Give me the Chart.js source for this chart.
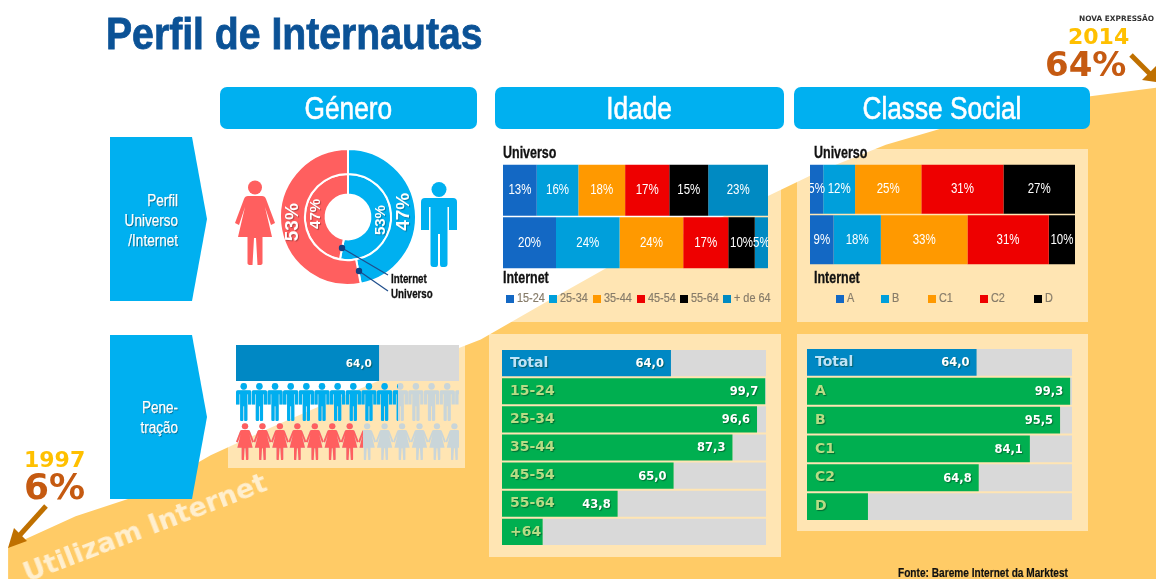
<!DOCTYPE html>
<html lang="pt">
<head>
<meta charset="utf-8">
<title>Perfil de Internautas</title>
<script src="https://cdn.jsdelivr.net/npm/chart.js@4"></script>
<style>
html,body{margin:0;padding:0;background:#fff;width:1156px;height:579px;overflow:hidden}
#stage{position:relative;width:1156px;height:579px;overflow:hidden;font-family:"Liberation Sans",sans-serif}
#stage>*{position:absolute}
canvas{display:block}
.pill{background:#00B0F0;border-radius:7px;color:#fff;text-align:center;font-size:32px;line-height:43px;height:42px}
.pill span{display:inline-block;transform:scaleX(.82);transform-origin:50% 50%;white-space:nowrap;-webkit-text-stroke:.6px #fff}
.panel{background:rgba(255,255,255,.5)}
.tag{left:110px;width:97px;height:164px;background:#00B0F0;clip-path:polygon(0 0,82px 0,100% 50%,82px 100%,0 100%)}
.tagt{left:90px;width:88px;text-align:right;color:#fff;font-size:16.5px;line-height:20px;text-shadow:1px 1px 1px rgba(0,0,0,.45);transform:scaleX(.82);transform-origin:100% 50%;-webkit-text-stroke:.25px #fff}
.sub{font-weight:bold;font-size:16px;color:#111;line-height:18px;transform:scaleX(.78);transform-origin:0 50%;white-space:nowrap;-webkit-text-stroke:.3px #111}
.lg{font-size:12.5px;line-height:12px;color:#877C6A;white-space:nowrap}
.lg i{display:inline-block;width:8px;height:8px;margin-right:3px;vertical-align:-0.5px}
.lg span{display:inline-block;transform:scaleX(.87);transform-origin:0 50%;-webkit-text-stroke:.2px #877C6A}
.row{overflow:hidden;left:236px;width:223px}
.row>div{position:absolute;left:0;top:0;height:100%;overflow:hidden}
</style>
</head>
<body>
<div id="stage">
  <canvas id="bg" width="1156" height="579" style="left:0;top:0"></canvas>
  <div style="left:24px;top:558px;transform:rotate(-21deg);transform-origin:0 50%;color:rgba(255,255,255,.68);font:bold 27px 'DejaVu Sans',sans-serif;white-space:nowrap">Utilizam Internet</div>

  <div class="panel" style="left:228px;top:340px;width:237px;height:128px"></div>
  <div class="panel" style="left:489px;top:150px;width:292px;height:172px"></div>
  <div class="panel" style="left:797px;top:149px;width:291px;height:173px"></div>
  <div class="panel" style="left:489px;top:334px;width:292px;height:223px"></div>
  <div class="panel" style="left:797px;top:334px;width:291px;height:197px"></div>

  <div style="left:106px;top:8px;color:#0B5296;font-weight:bold;font-size:44px;line-height:52px;white-space:nowrap;transform:scaleX(.89);transform-origin:0 50%;-webkit-text-stroke:.8px #0B5296">Perfil de Internautas</div>
  <div class="pill" style="left:220px;top:87px;width:257px"><span>Género</span></div>
  <div class="pill" style="left:495px;top:87px;width:289px"><span>Idade</span></div>
  <div class="pill" style="left:794px;top:87px;width:296px"><span>Classe Social</span></div>

  <div class="tag" style="top:137px"></div>
  <div class="tag" style="top:335px"></div>
  <div class="tagt" style="top:190px">Perfil<br>Universo<br>/Internet</div>
  <div class="tagt" style="top:397px">Pene-<br>tração</div>

  <canvas id="donut" width="160" height="160" style="left:268px;top:137px"></canvas>
  <svg style="left:0;top:0" width="1156" height="579" viewBox="0 0 1156 579">
    <defs>
      <symbol id="wom" viewBox="0 0 40 85" preserveAspectRatio="none"><circle cx="20" cy="7.5" r="7"/><path d="M13,16 L27,16 Q30,16 31,19 L40,43 L36,45 L30,27 L37,57 L27.5,57 L27.5,83 Q27.5,85 24.5,85 L22.5,85 L21,58 L19,58 L17.5,85 L15.5,85 Q12.5,85 12.5,83 L12.5,57 L3,57 L10,27 L4,45 L0,43 L9,19 Q10,16 13,16 Z"/></symbol>
      <symbol id="man" viewBox="0 0 36 85" preserveAspectRatio="none"><circle cx="18" cy="7.5" r="7.5"/><path d="M4,16 L32,16 Q36,16 36,20 L36,48 L28,48 L28,25 L26.5,25 L26.5,82 Q26.5,85 23.5,85 L21,85 Q19,85 19,82 L19,52 L17,52 L17,82 Q17,85 15,85 L12.5,85 Q9.5,85 9.5,82 L9.5,25 L8,25 L8,48 L0,48 L0,20 Q0,16 4,16 Z"/></symbol>
    </defs>
    <use href="#wom" x="235" y="180" width="40" height="85" fill="#FF5F5F"/>
    <use href="#man" x="421" y="182" width="36" height="85" fill="#00B0F0"/>
    <g stroke="#1F4E8C" stroke-width="1.2" fill="#123F80">
      <line x1="342" y1="248" x2="388" y2="275"/><circle cx="342" cy="248" r="3.2" stroke="none"/>
      <line x1="359" y1="271" x2="388" y2="291"/><circle cx="359" cy="271" r="3.2" stroke="none"/>
    </g>
    <line x1="46" y1="506" x2="19" y2="536" stroke="#BF7000" stroke-width="5"/>
    <polygon points="8,548 14,528 27,541" fill="#BF7000"/>
    <line x1="1131" y1="55" x2="1150" y2="74" stroke="#BF7000" stroke-width="5"/>
    <polygon points="1156,82 1156,66 1142,80" fill="#BF7000"/>
  </svg>
  <div class="sub" style="left:391px;top:272px;font-size:12.5px;line-height:15px;color:#111">Internet<br>Universo</div>

  <canvas id="penG" width="223" height="36" style="left:236px;top:345px"></canvas>
  <div class="row" id="rowM" style="top:383px;height:38px"></div>
  <div class="row" id="rowF" style="top:423px;height:37px"></div>

  <div class="sub" style="left:503px;top:144px">Universo</div>
  <canvas id="stackA" width="265" height="105" style="left:503px;top:164px"></canvas>
  <div class="sub" style="left:503px;top:269px">Internet</div>
  <div id="legA"></div>

  <div class="sub" style="left:814px;top:144px">Universo</div>
  <canvas id="stackC" width="265" height="101" style="left:809.5px;top:164px"></canvas>
  <div class="sub" style="left:814px;top:269px">Internet</div>
  <div id="legC"></div>

  <canvas id="penA" width="264" height="197" style="left:502px;top:349px"></canvas>
  <canvas id="penC" width="265" height="173" style="left:807px;top:348px"></canvas>

  <div style="left:24px;top:447px;color:#FFC000;font:bold 22px 'DejaVu Sans',sans-serif">1997</div>
  <div style="left:24px;top:466px;color:#C55A11;font:bold 36px 'DejaVu Sans',sans-serif">6%</div>
  <div style="left:1079px;top:14px;color:#333;font:bold 7.4px 'DejaVu Sans',sans-serif;white-space:nowrap">NOVA EXPRESSÃO</div>
  <div style="left:1068px;top:24px;color:#FFC000;font:bold 22px 'DejaVu Sans',sans-serif">2014</div>
  <div style="left:1045px;top:44px;color:#C55A11;font:bold 34px 'DejaVu Sans',sans-serif">64%</div>
  <div style="left:898px;top:566px;font-weight:bold;font-size:12.5px;color:#111;white-space:nowrap;transform:scaleX(.81);transform-origin:0 50%;-webkit-text-stroke:.2px #111">Fonte: Bareme Internet da Marktest</div>
</div>

<script>
// Curve behind the page: share of the population using the internet
const usageYears  = [1997,1998,1999,2000,2001,2002,2003,2004,2005,2006,2007,2008,2009,2010,2011,2012,2013,2014];
const usageValues = [6,9.9,12.7,17.6,21.5,25.2,28.9,32.2,37.1,41.9,45.5,49.3,53.4,56.8,59.3,61.2,62.9,64];

// Gender
const genderLabels   = ['Homens','Mulheres'];
const genderUniverso = [47,53];
const genderInternet = [53,47];
const pictoMaleShare = 72.6;
const pictoFemaleShare = 57;
const totalPenetration = [64.0];

// Age
const ageLabels    = ['15-24','25-34','35-44','45-54','55-64','+ de 64'];
const ageUniverso  = [13,16,18,17,15,23];
const ageInternet  = [20,24,24,17,10,5];
const ageColors    = ['#1368C4','#009FDB','#FF9900','#EE0000','#000000','#008AC2'];

// Social class
const classLabels   = ['A','B','C1','C2','D'];
const classUniverso = [5,12,25,31,27];
const classInternet = [9,18,33,31,10];
const classColors   = ['#1368C4','#009FDB','#FF9900','#EE0000','#000000'];

// Penetration
const penAgeCats    = ['Total','15-24','25-34','35-44','45-54','55-64','+64'];
const penAgeValues  = [64.0,99.7,96.6,87.3,65.0,43.8,15.4];
const penAgeShown   = ['64,0','99,7','96,6','87,3','65,0','43,8',''];
const penClassCats  = ['Total','A','B','C1','C2','D'];
const penClassValues= [64.0,99.3,95.5,84.1,64.8,23];
const penClassShown = ['64,0','99,3','95,5','84,1','64,8',''];

Chart.defaults.animation = false;
Chart.defaults.responsive = false;
Chart.defaults.plugins.legend.display = false;
Chart.defaults.plugins.tooltip.enabled = false;
Chart.defaults.layout.padding = 0;
const SANS = '"Liberation Sans",sans-serif';
const BLUE='#0088C4', GREEN='#00AF50', GREY='#D9D9D9', RED='#FF5F5F', SKY='#00B0F0';

new Chart('bg',{type:'line',
  data:{labels:usageYears,datasets:[{data:usageValues,fill:'start',backgroundColor:'#FFCB66',borderWidth:0,pointRadius:0,tension:0}]},
  options:{scales:{
    x:{type:'linear',display:false,min:1996.88,max:2014},
    y:{display:false,min:1.96,max:75.1}}}
});

// Rotated % labels on the rings
const ringLabels={id:'ringLabels',afterDatasetsDraw(c){
  const g=c.ctx;
  c.data.datasets.forEach((d,i)=>{
    c.getDatasetMeta(i).data.forEach((a,j)=>{
      const p=a.tooltipPosition();
      g.save();g.translate(p.x,p.y);g.rotate(-Math.PI/2);
      g.fillStyle='#fff';g.textAlign='center';g.textBaseline='middle';
      g.shadowColor='rgba(0,0,0,.3)';g.shadowBlur=1;g.shadowOffsetX=1;g.shadowOffsetY=1;
      g.font='bold '+(i===0?19:15)+'px '+SANS;
      g.fillText(d.data[j]+'%',0,0);g.restore();
    });
  });
}};
new Chart('donut',{type:'doughnut',
  data:{labels:genderLabels,datasets:[
    {label:'Universo',data:genderUniverso,backgroundColor:[SKY,RED],borderColor:'#fff',borderWidth:2,weight:1.2},
    {label:'Internet',data:genderInternet,backgroundColor:[SKY,RED],borderColor:'#fff',borderWidth:2,weight:1}]},
  options:{radius:68,cutout:26},plugins:[ringLabels]});

// Stacked shares: each row fills the full width, the label keeps the value read in the picture
const stackLabels={id:'stackLabels',afterDatasetsDraw(c){
  const g=c.ctx;
  c.data.datasets.forEach((d,i)=>{
    c.getDatasetMeta(i).data.forEach((b,j)=>{
      const p=b.getCenterPoint();
      g.save();g.translate(p.x,p.y);g.scale(.82,1);
      g.fillStyle='#fff';g.font='14px '+SANS;g.textAlign='center';g.textBaseline='middle';
      g.fillText(d.shown[j]+'%',0,0);g.restore();
    });
  });
}};
function stack(id,names,colors,a,b){
  const sa=a.reduce((s,v)=>s+v,0), sb=b.reduce((s,v)=>s+v,0);
  new Chart(id,{type:'bar',
    data:{labels:['Universo','Internet'],datasets:names.map((n,i)=>({
      label:n,data:[a[i]/sa*100,b[i]/sb*100],shown:[a[i],b[i]],backgroundColor:colors[i],
      barPercentage:.97,categoryPercentage:1}))},
    options:{indexAxis:'y',scales:{
      x:{stacked:true,display:false,min:0,max:100},
      y:{stacked:true,display:false}}},plugins:[stackLabels]});
}
stack('stackA',ageLabels,ageColors,ageUniverso,ageInternet);
stack('stackC',classLabels,classColors,classUniverso,classInternet);

// Penetration bars on a grey 0-100 track
const penLabels={id:'penLabels',afterDatasetsDraw(c,_,o){
  const g=c.ctx, meta=c.getDatasetMeta(0);
  meta.data.forEach((b,j)=>{
    g.save();
    g.shadowColor='rgba(0,60,30,.55)';g.shadowBlur=1;g.shadowOffsetX=1;g.shadowOffsetY=1;
    g.textBaseline='middle';
    if(o.cats){
      g.font='bold 14px "DejaVu Sans",sans-serif';g.textAlign='left';
      g.fillStyle=j===0?'#BFE3F7':'#B7DC85';
      g.fillText(c.data.labels[j],8,b.y);
    }
    g.font='bold '+(o.cats?11.5:10.5)+'px "DejaVu Sans",sans-serif';g.textAlign='right';g.fillStyle='#fff';
    g.fillText(o.shown[j],b.x-7,b.y+1);
    g.restore();
  });
}};
function pen(id,cats,vals,shown,withCats,thick){
  new Chart(id,{type:'bar',
    data:{labels:cats,datasets:[
      {data:vals,backgroundColor:cats.map((_,i)=>i===0?BLUE:GREEN),barPercentage:thick,categoryPercentage:1},
      {data:vals.map(v=>100-v),backgroundColor:GREY,barPercentage:thick,categoryPercentage:1}]},
    options:{indexAxis:'y',scales:{
      x:{stacked:true,display:false,min:0,max:100},
      y:{stacked:true,display:false}},
      plugins:{penLabels:{shown:shown,cats:withCats}}},plugins:[penLabels]});
}
pen('penA',penAgeCats,penAgeValues,penAgeShown,true,.93);
pen('penC',penClassCats,penClassValues,penClassShown,true,.93);
pen('penG',['Total'],totalPenetration,['64,0'],false,1);

// Figures
function figs(host,sym,n,step,w,h,color,pct){
  const mk=(col)=>{let s='<svg width="'+(n*step)+'" height="'+h+'" style="display:block">';
    for(let i=0;i<n;i++) s+='<use href="#'+sym+'" x="'+(i*step)+'" y="0" width="'+w+'" height="'+h+'" fill="'+col+'"/>';
    return s+'</svg>';};
  const el=document.getElementById(host);
  el.innerHTML='<div style="width:100%">'+mk('#C9D5D9')+'</div><div style="width:'+pct+'%">'+mk(color)+'</div>';
}
figs('rowM','man',15,15.65,15.5,38,'#00AEEF',pictoMaleShare);
figs('rowF','wom',14,17.45,18,37,RED,pictoFemaleShare);

// Legends from the category lists
function legend(host,names,colors,xs,y){
  const st=document.getElementById('stage');
  document.getElementById(host).remove();
  names.forEach((n,i)=>{
    const e=document.createElement('div');e.className='lg';
    e.style.left=xs[i]+'px';e.style.top=y+'px';
    e.innerHTML='<i style="background:'+colors[i]+'"></i><span>'+n+'</span>';
    st.appendChild(e);
  });
}
legend('legA',ageLabels,ageColors,[506,549,593,637,680,723],292);
legend('legC',classLabels,classColors,[836,881,928,980,1034],292);
</script>
</body>
</html>
